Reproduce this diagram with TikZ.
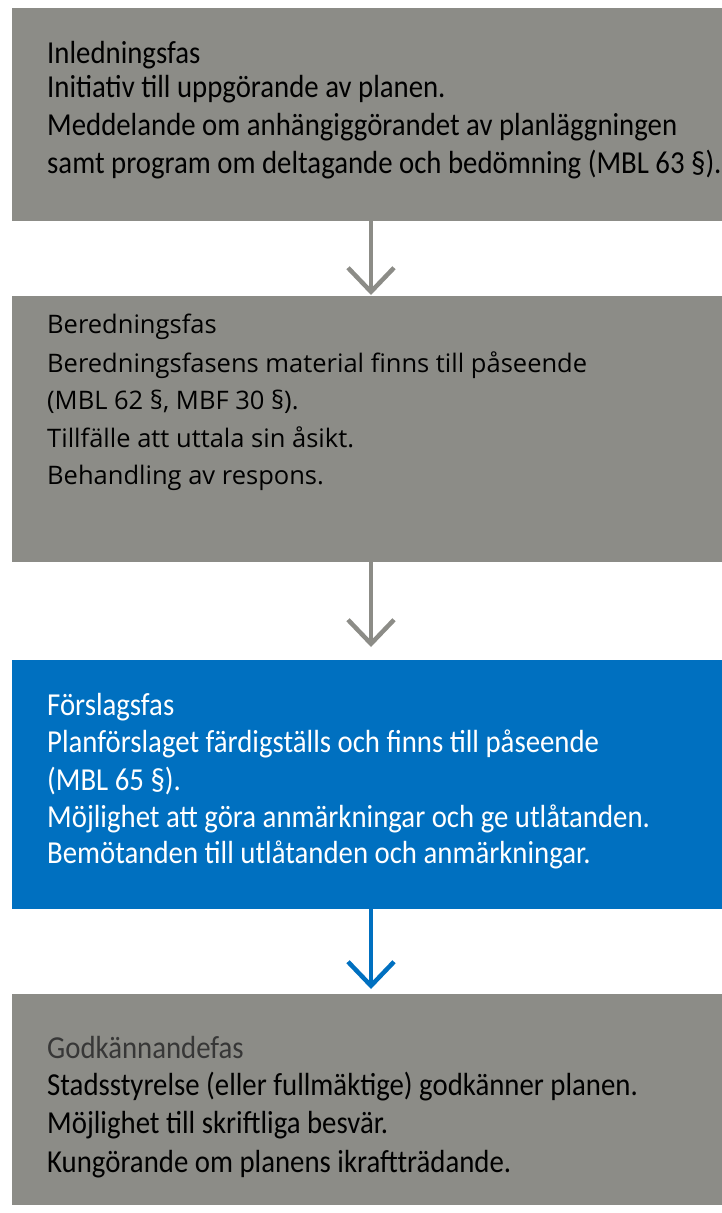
\documentclass[tikz,border=0pt]{standalone}
\usepackage{fontspec}
\setmainfont{Carlito}[FakeStretch=0.90]
\newfontfamily\widefont{Open Sans}
\usetikzlibrary{arrows.meta}
\definecolor{boxgray}{RGB}{140,140,135}
\definecolor{boxblue}{RGB}{0,112,192}
\definecolor{headgray}{RGB}{55,55,55}
\tikzset{
  phasebox/.style={anchor=north west, inner sep=0pt, outer sep=0pt, minimum width=718pt},
  graybox/.style={phasebox, fill=boxgray},
  bluebox/.style={phasebox, fill=boxblue},
  txt/.style={anchor=base west, inner sep=0pt, font=\fontsize{32}{38}\selectfont},
  wtxt/.style={anchor=base west, inner sep=0pt, font=\widefont\fontsize{25.5}{30}\selectfont},
  arr/.style={line width=4.5pt, -{Straight Barb[length=24pt,width=46pt,line cap=butt,line join=miter]}},
}
\begin{document}
\begin{tikzpicture}[x=1pt,y=-1pt]
\useasboundingbox (0,0) rectangle (722,1213);
% boxes
\node[graybox, minimum height=213pt] (b1) at (12,8) {};
\node[graybox, minimum height=266pt] (b2) at (12,296) {};
\node[bluebox, minimum height=249pt] (b3) at (12,660) {};
\node[graybox, minimum height=211pt] (b4) at (12,994) {};
% box 1 text
\node[txt] (t1a) at (47,63) {Inledningsfas};
\node[txt] (t1b) at (47,97) {Initiativ till uppgörande av planen.};
\node[txt] (t1c) at (47,135) {Meddelande om anhängiggörandet av planläggningen};
\node[txt] (t1d) at (47,173) {samt program om deltagande och bedömning (MBL 63 §).};
% box 2 text
\node[wtxt] (t2a) at (47,333) {Beredningsfas};
\node[wtxt] (t2b) at (47,372) {Beredningsfasens material finns till påseende};
\node[wtxt] (t2c) at (47,409) {(MBL 62 §, MBF 30 §).};
\node[wtxt] (t2d) at (47,447) {Tillfälle att uttala sin åsikt.};
\node[wtxt] (t2e) at (47,484) {Behandling av respons.};
% box 3 text
\node[txt, text=white] (t3a) at (47,715) {Förslagsfas};
\node[txt, text=white] (t3b) at (47,752) {Planförslaget färdigställs och finns till påseende};
\node[txt, text=white] (t3c) at (47,790) {(MBL 65 §).};
\node[txt, text=white] (t3d) at (47,827) {Möjlighet att göra anmärkningar och ge utlåtanden.};
\node[txt, text=white] (t3e) at (47,863) {Bemötanden till utlåtanden och anmärkningar.};
% box 4 text
\node[txt, text=headgray] (t4a) at (47,1058) {Godkännandefas};
\node[txt] (t4b) at (47,1095) {Stadsstyrelse (eller fullmäktige) godkänner planen.};
\node[txt] (t4c) at (47,1133) {Möjlighet till skriftliga besvär.};
\node[txt] (t4d) at (47,1172) {Kungörande om planens ikraftträdande.};
% arrows
\draw[arr, boxgray, shorten >=1pt] (b1.south) -- (b2.north);
\draw[arr, boxgray, shorten >=13pt] (b2.south) -- (b3.north);
\draw[arr, boxblue, shorten >=5pt] (b3.south) -- (b4.north);
\end{tikzpicture}
\end{document}
